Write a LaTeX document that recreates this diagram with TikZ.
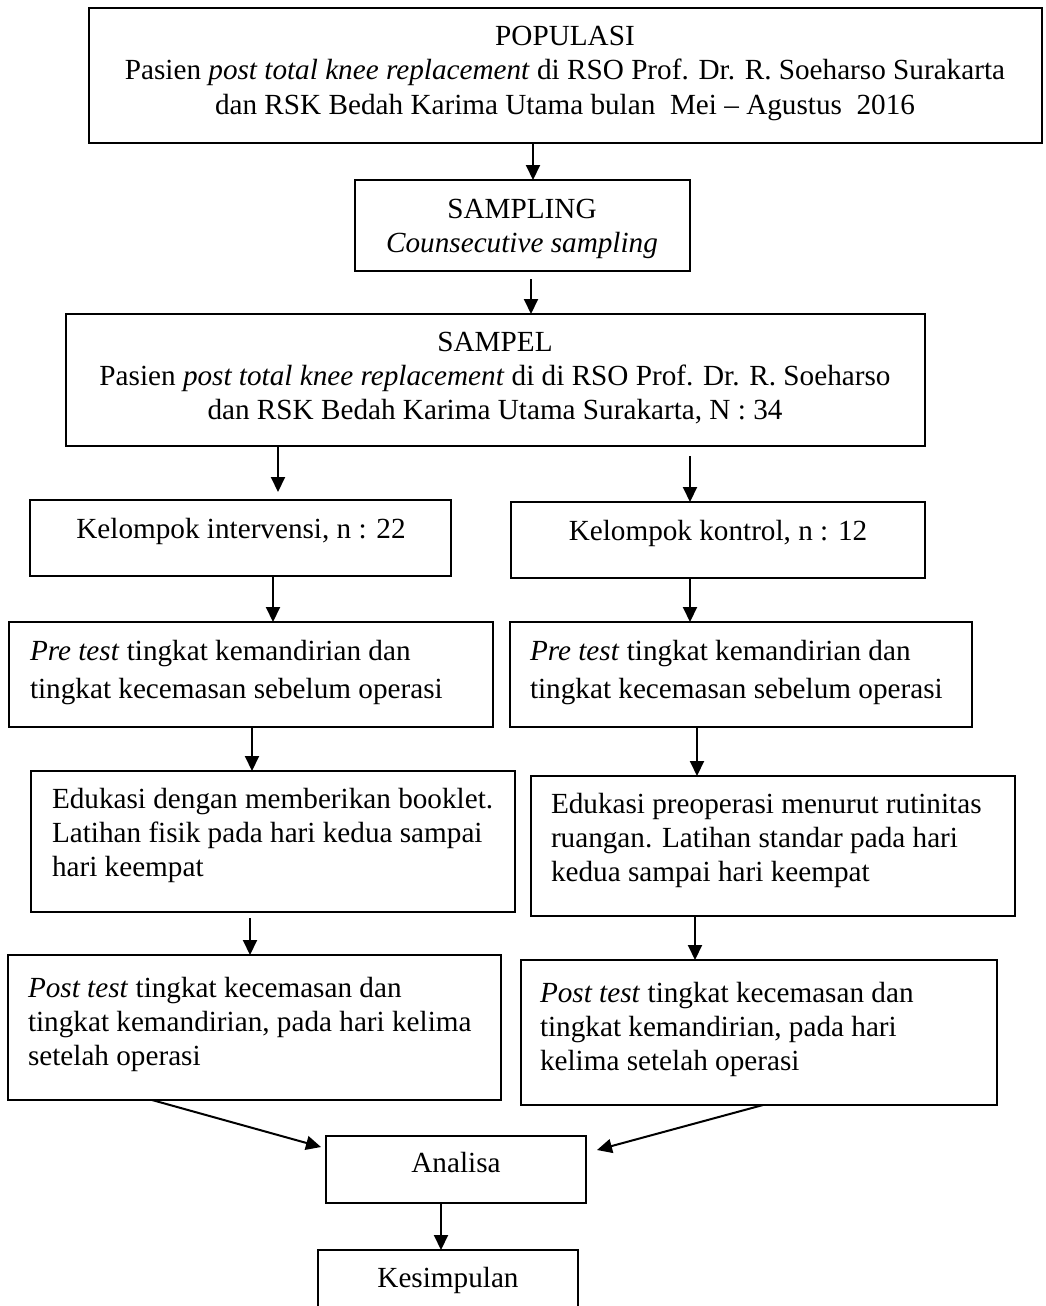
\documentclass[tikz,border=0pt]{standalone}
\usepackage{fontspec}
\setmainfont{Liberation Serif}
\usetikzlibrary{arrows.meta,fit}
\newcommand\tst{\rule{0pt}{22pt}}
\begin{document}
\begin{tikzpicture}[x=1pt,y=-1pt,
  box/.style={draw, line width=2pt, inner sep=0pt, outer sep=0pt, rectangle},
  txt/.style={inner sep=0pt, outer sep=0pt, font=\fontsize{29.2pt}{34pt}\selectfont},
  ctxt/.style={txt, align=center, anchor=north},
  ltxt/.style={txt, align=left, anchor=north west},
  arr/.style={line width=2pt, -{Triangle[length=15pt,width=14pt]}}]
\fill[white] (0,0) rectangle (1046,1306);
\clip (0,0) rectangle (1046,1306);
% boxes
\node[box, fit={(89,8)(1042,143)}] (b1) {};
\node[box, fit={(355,180)(690,271)}] (b2) {};
\node[box, fit={(66,314)(925,446)}] (b3) {};
\node[box, fit={(30,500)(451,576)}] (b4l) {};
\node[box, fit={(511,502)(925,578)}] (b4r) {};
\node[box, fit={(9,622)(493,727)}] (b5l) {};
\node[box, fit={(510,622)(972,727)}] (b5r) {};
\node[box, fit={(31,771)(515,912)}] (b6l) {};
\node[box, fit={(531,776)(1015,916)}] (b6r) {};
\node[box, fit={(8,955)(501,1100)}] (b7l) {};
\node[box, fit={(521,960)(997,1105)}] (b7r) {};
\node[box, fit={(326,1136)(586,1203)}] (an) {};
\node[box, fit={(318,1250)(578,1340)}] (ks) {};
% texts
\node[ctxt, font=\fontsize{29.2pt}{34.5pt}\selectfont] (t1) at (565,23) {\tst POPULASI\\Pasien \textit{post total knee replacement} di RSO Prof. Dr. R. Soeharso Surakarta\\dan RSK Bedah Karima Utama bulan\ \ Mei – Agustus\ \ 2016};
\node[ctxt] (t2) at (522,196) {\tst SAMPLING\\\textit{Counsecutive sampling}};
\node[ctxt] (t3) at (495,329) {\tst SAMPEL\\Pasien \textit{post total knee replacement} di di RSO Prof. Dr. R. Soeharso\\dan RSK Bedah Karima Utama Surakarta, N : 34};
\node[ctxt] (t4l) at (241,516) {\tst Kelompok intervensi, n : 22};
\node[ctxt] (t4r) at (718,518) {\tst Kelompok kontrol, n : 12};
\node[ltxt] (t5l) at (30,638) {\tst\textit{Pre test} tingkat kemandirian dan\\[4pt]tingkat kecemasan sebelum operasi};
\node[ltxt] (t5r) at (530,638) {\tst\textit{Pre test} tingkat kemandirian dan\\[4pt]tingkat kecemasan sebelum operasi};
\node[ltxt] (t6l) at (52,786) {\tst Edukasi dengan memberikan booklet.\\Latihan fisik pada hari kedua sampai\\hari keempat};
\node[ltxt] (t6r) at (551,791) {\tst Edukasi preoperasi menurut rutinitas\\ruangan. Latihan standar pada hari\\kedua sampai hari keempat};
\node[ltxt] (t7l) at (28,975) {\tst\textit{Post test} tingkat kecemasan dan\\tingkat kemandirian, pada hari kelima\\setelah operasi};
\node[ltxt] (t7r) at (540,980) {\tst\textit{Post test} tingkat kecemasan dan\\tingkat kemandirian, pada hari\\kelima setelah operasi};
\node[ctxt] (tan) at (456,1150) {\tst Analisa};
\node[ctxt] (tks) at (448,1265) {\tst Kesimpulan};
% x positions of the arrows
\coordinate (x533) at (533,0);
\coordinate (x531) at (531,0);
\coordinate (x278) at (278,0);
\coordinate (x690) at (690,0);
\coordinate (x273) at (273,0);
\coordinate (x252) at (252,0);
\coordinate (x697) at (697,0);
\coordinate (x250) at (250,0);
\coordinate (x695) at (695,0);
\coordinate (x152) at (152,0);
\coordinate (x763) at (763,0);
\coordinate (x441) at (441,0);
\coordinate (tipL) at (321,1147);
\coordinate (tipR) at (597,1150);
% arrows
\draw[arr] (b1.south -| x533) -- (b2.north -| x533);
\draw[arr, shorten <=8pt] (b2.south -| x531) -- (b3.north -| x531);
\draw[arr, shorten >=8pt] (b3.south -| x278) -- (b4l.north -| x278);
\draw[arr, shorten <=10pt] (b3.south -| x690) -- (b4r.north -| x690);
\draw[arr] (b4l.south -| x273) -- (b5l.north -| x273);
\draw[arr] (b4r.south -| x690) -- (b5r.north -| x690);
\draw[arr] (b5l.south -| x252) -- (b6l.north -| x252);
\draw[arr] (b5r.south -| x697) -- (b6r.north -| x697);
\draw[arr, shorten <=6pt] (b6l.south -| x250) -- (b7l.north -| x250);
\draw[arr] (b6r.south -| x695) -- (b7r.north -| x695);
\draw[arr] (b7l.south -| x152) -- (tipL);
\draw[arr] (b7r.south -| x763) -- (tipR);
\draw[arr] (an.south -| x441) -- (ks.north -| x441);
\end{tikzpicture}
\end{document}
